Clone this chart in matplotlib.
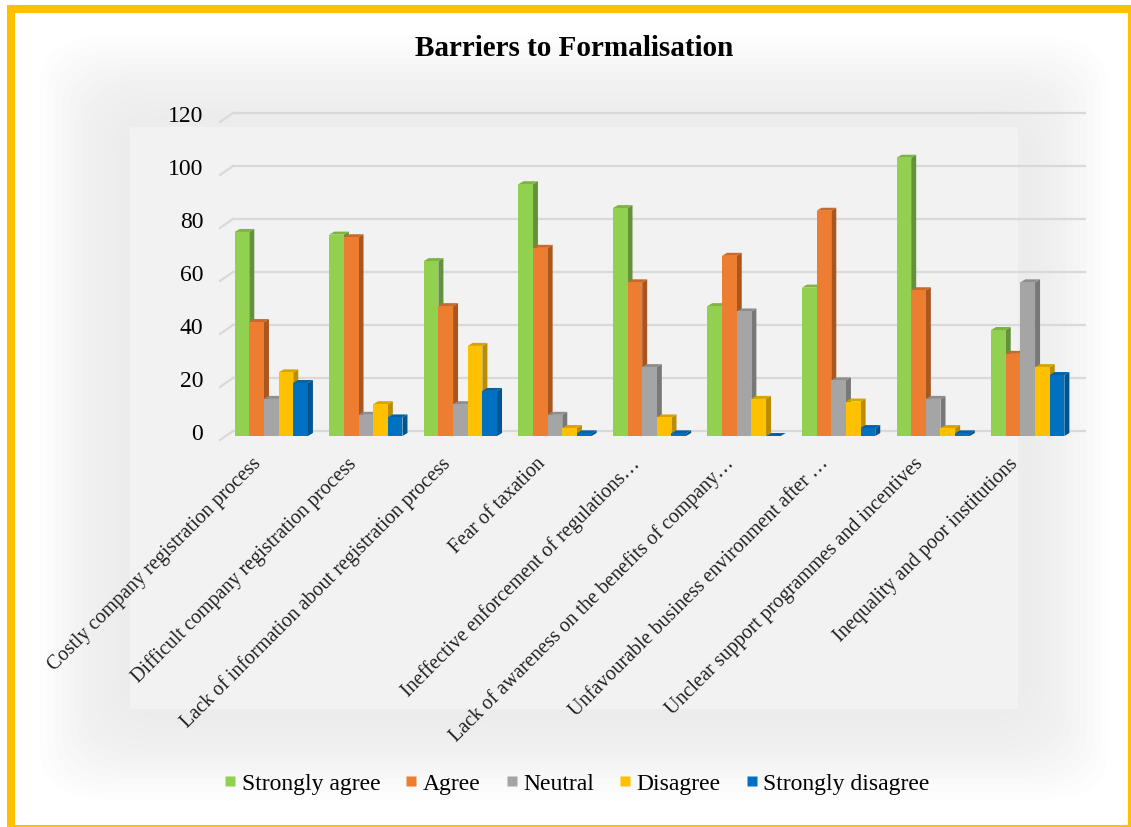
import matplotlib
matplotlib.use("Agg")
import matplotlib.pyplot as plt
import matplotlib.transforms as mtransforms
from matplotlib.patches import Polygon, Rectangle, FancyBboxPatch
from matplotlib.lines import Line2D
import numpy as np

plt.rcParams['font.family'] = ['Liberation Serif', 'DejaVu Serif']

# Values
categories = [
    'Costly company registration process',
    'Difficult company registration process',
    'Lack of information about registration process',
    'Fear of taxation',
    'Ineffective enforcement of regulations\u2026',
    'Lack of awareness on the benefits of company\u2026',
    'Unfavourable business environment after \u2026',
    'Unclear support programmes and incentives',
    'Inequality and poor institutions',
]
series_names = ['Strongly agree', 'Agree', 'Neutral', 'Disagree', 'Strongly disagree']
strongly_agree = [77, 76, 66, 95, 86, 49, 56, 105, 40]
agree = [43, 75, 49, 71, 58, 68, 85, 55, 31]
neutral = [14, 8, 12, 8, 26, 47, 21, 14, 58]
disagree = [24, 12, 34, 3, 7, 14, 13, 3, 26]
strongly_disagree = [20, 7, 17, 1, 1, 0, 3, 1, 23]
y_ticks = [0, 20, 40, 60, 80, 100, 120]

all_series = [strongly_agree, agree, neutral, disagree, strongly_disagree]
front_colors = ['#92D050', '#ED7D31', '#A5A5A5', '#FFC000', '#0070C0']
side_colors = ['#64923A', '#A9561F', '#787878', '#BA8C00', '#00548F']
top_colors = ['#7DB442', '#C9692A', '#8E8E8E', '#D9A300', '#0062A8']

W, H = 1131, 828
fig = plt.figure(figsize=(W / 100, H / 100), dpi=100)
fig.patch.set_facecolor('white')

# soft glow behind the chart area
for k in range(12):
    pad = 90 - k * 7
    fig.patches.append(FancyBboxPatch(
        ((130 - pad) / W, 1 - (710 + pad) / H), (888 + 2 * pad) / W, (582 + 2 * pad) / H,
        boxstyle='round,pad=0,rounding_size=0.06', transform=fig.transFigure,
        facecolor='#dadada', edgecolor='none', alpha=0.045, zorder=-2))
fig.patches.append(Rectangle((130 / W, 1 - 710 / H), 888 / W, 582 / H,
                             transform=fig.transFigure, facecolor='#F2F2F2',
                             edgecolor='none', zorder=-1))

# outer gold frame
gold = '#FFC000'
fig.patches.append(Rectangle((7 / W, 0), 8 / W, 1 - 6 / H, transform=fig.transFigure,
                             facecolor=gold, edgecolor='none', zorder=10))
fig.patches.append(Rectangle((7 / W, 1 - 14 / H), 1 - 7 / W, 8 / H, transform=fig.transFigure,
                             facecolor=gold, edgecolor='none', zorder=10))
fig.patches.append(Rectangle((7 / W, 0), 1 - 7 / W, 2.5 / H, transform=fig.transFigure,
                             facecolor=gold, edgecolor='none', zorder=10))
fig.patches.append(Rectangle((1 - 3 / W, 0), 3 / W, 1 - 6 / H, transform=fig.transFigure,
                             facecolor=gold, edgecolor='none', zorder=10))

ax = fig.add_axes([224 / W, 1 - 432 / H, 851 / W, 318 / H])
ax.set_zorder(5)
ax.set_facecolor('none')
ax.set_xlim(-0.5, len(categories) - 0.5)
ax.set_ylim(0, 120)
for s in ax.spines.values():
    s.set_visible(False)

# gridlines with a small 3D slant at the left
for t in y_ticks:
    yp = ax.transData.transform((0, t))[1]
    fig.add_artist(Line2D([233 / W, 1085 / W], [yp / H, yp / H], transform=fig.transFigure,
                          color='#D9D9D9', lw=1.6, zorder=1))
    fig.add_artist(Line2D([220 / W, 233 / W], [(yp - 9) / H, yp / H], transform=fig.transFigure,
                          color='#D9D9D9', lw=1.6, zorder=1))

x = np.arange(len(categories))
bw = 0.155
dx_px, dy_px = 5, 3
inv = ax.transData.inverted()
o = ax.transData.transform((0, 0))
ddx, ddy = inv.transform((o[0] + dx_px, o[1] + dy_px))
# front faces sit a little in front of (below) the back-wall zero line
base = inv.transform((o[0], o[1] - 5))[1]

for j, vals in enumerate(all_series):
    bars = ax.bar(x + (j - 2) * bw, vals, width=bw, bottom=base, color=front_colors[j],
                  label=series_names[j], edgecolor='none', clip_on=False)
    for i, p in enumerate(bars.patches):
        z = 3 + (i * 5 + j) * 0.01
        p.set_zorder(z + 0.005)
        x0, w, y0, h = p.get_x(), p.get_width(), p.get_y(), p.get_height()
        y1 = y0 + h
        side = Polygon([(x0 + w, y0), (x0 + w + ddx, y0 + ddy), (x0 + w + ddx, y1 + ddy), (x0 + w, y1)],
                       closed=True, facecolor=side_colors[j], edgecolor='none', zorder=z,
                       clip_on=False)
        top = Polygon([(x0, y1), (x0 + ddx, y1 + ddy), (x0 + w + ddx, y1 + ddy), (x0 + w, y1)],
                      closed=True, facecolor=top_colors[j], edgecolor='none', zorder=z,
                      clip_on=False)
        ax.add_patch(side)
        ax.add_patch(top)

ax.set_yticks(y_ticks)
ax.set_yticklabels([str(t) for t in y_ticks], fontsize=17)
ax.tick_params(axis='y', length=0, pad=15)
ax.set_xticks(x)
ax.set_xticklabels(categories, rotation=45, ha='right', va='center',
                   rotation_mode='anchor', fontsize=14.5, color='#222222')
ax.tick_params(axis='x', length=0, pad=21)
shift = mtransforms.ScaledTranslation(-9 / 72, 0, fig.dpi_scale_trans)
for lab in ax.get_xticklabels():
    lab.set_transform(lab.get_transform() + shift)

fig.text(574 / W, 1 - 48 / H, 'Barriers to Formalisation', ha='center', va='center',
         fontsize=21, fontweight='bold')

handles = [Line2D([], [], marker='s', linestyle='none', markersize=7,
                  markerfacecolor=c, markeredgecolor='none') for c in front_colors]
fig.legend(handles, series_names, loc='center', bbox_to_anchor=(577 / W, 1 - 784 / H),
           ncol=5, frameon=False, fontsize=17, handlelength=0.5, handletextpad=0.25,
           columnspacing=1.05)

fig.savefig('out.png', dpi=100)
